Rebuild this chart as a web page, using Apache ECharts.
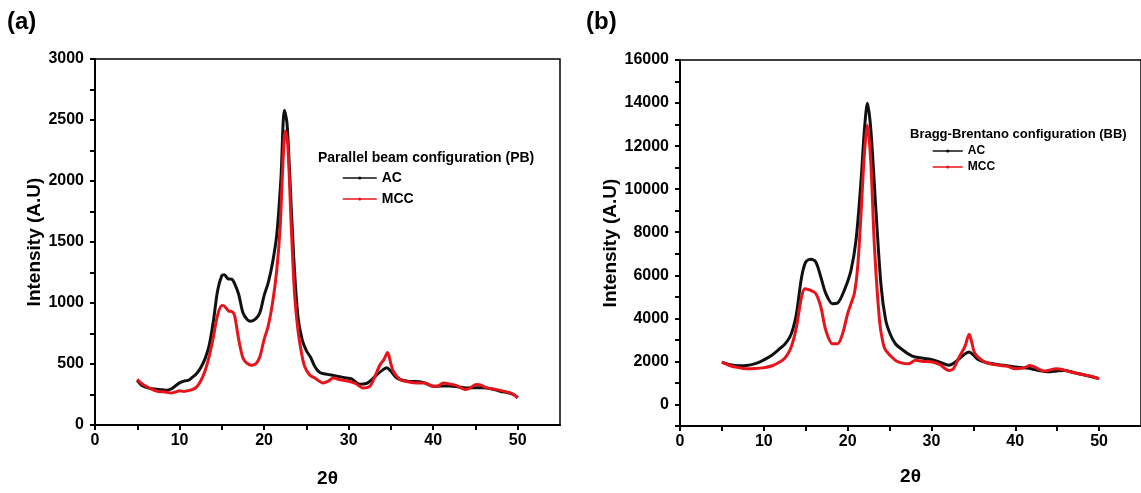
<!DOCTYPE html>
<html><head><meta charset="utf-8">
<script src="https://cdn.jsdelivr.net/npm/echarts@6/dist/echarts.min.js"></script>
<style>html,body{margin:0;padding:0;background:#fff}#c{width:1141px;height:493px}</style>
</head><body><div id="c"></div>
<script>
// Panel (a) Parallel beam (PB)
const pbAngleAC = [5,5.5,6,6.5,7,7.5,8,8.5,9,9.5,10,10.5,11,11.5,12,12.5,13,13.5,14,14.5,15,15.3,15.7,16.2,16.5,17,17.5,18,18.4,19,19.5,20,20.5,21,21.5,22,22.4,22.7,23,23.5,24,24.5,25,25.5,26,26.6,27.5,28.2,29,29.75,30.3,31.3,32.1,33.3,34,34.5,35,35.7,36.5,37.2,38.4,39,40,41,42,43,43.9,45,45.9,47,47.9,49,49.5,50];
const pbAC      = [365,325,310,300,295,292,288,285,295,320,345,360,365,390,420,470,540,650,850,1100,1225,1232,1200,1195,1160,1070,920,865,850,870,920,1060,1170,1330,1560,2030,2580,2480,2100,1380,890,700,610,555,480,430,415,406,395,385,380,335,340,410,450,470,440,385,365,357,355,345,317,320,320,312,304,305,306,295,277,262,250,225];
const pbAngleMCC = [5,5.5,6,6.5,7,7.5,8,8.5,9,9.5,10,10.5,11,11.5,12,12.5,13,13.5,14,14.5,15,15.3,15.8,16.2,16.5,17,17.5,18,18.5,19,19.5,20,20.5,21,21.5,21.9,22.2,22.5,22.8,23.2,23.6,24,24.4,24.8,25.4,26,27,27.6,28.2,29,30.1,30.8,31.7,32.5,33,33.7,34.2,34.6,35,35.3,36.1,37,38,39,40,40.6,41.2,42,42.7,43.9,45.1,45.5,46.3,47.5,48.7,49.2,49.5,50];
const pbMCC      = [375,340,320,300,285,275,272,268,262,270,280,275,282,290,310,360,440,560,720,900,980,975,935,930,900,700,550,505,490,500,560,700,815,1000,1270,1620,2100,2410,2300,1650,1080,780,600,480,410,385,344,360,385,370,357,340,304,317,380,492,540,594,500,438,371,355,344,345,317,320,344,335,325,290,331,330,304,290,271,262,250,222];

// Panel (b) Bragg-Brentano (BB)
const bbAngleAC = [5,6,7,7.9,9,9.9,11,11.9,12.5,13.1,13.5,13.9,14.5,15,15.6,16.2,16.8,17.4,18.2,18.8,19.6,20.4,21,21.6,22,22.36,22.77,23.4,24,24.55,25.1,25.7,26.5,27.7,29,30.1,31,32.1,32.6,33.3,34,34.5,35,35.6,36.5,38,39,40,41,41.9,43,43.9,45,45.9,47,47.9,49,50];
const bbAC      = [1970,1850,1800,1810,1900,2050,2300,2590,2800,3130,3550,4220,5900,6620,6740,6620,5920,5150,4680,4710,5300,6230,7630,10400,12750,13990,12750,8870,5460,3900,3250,2820,2550,2250,2150,2080,1970,1820,1900,2120,2350,2440,2300,2080,1950,1850,1800,1740,1700,1660,1560,1520,1560,1580,1480,1400,1300,1200];
const bbAngleMCC = [5,6,7,7.9,9,9.9,11,11.9,12.5,13.1,13.5,13.9,14.5,14.9,15.6,16.2,16.8,17.4,18.2,18.8,19.4,20,20.4,20.8,21.2,21.6,22,22.36,22.77,23.2,23.8,24.2,24.55,25.7,26.5,27.3,28.1,29,30.1,31,32.1,32.6,33.3,34,34.5,34.8,35.2,36.4,38,39,40,41,41.8,42.5,43.5,44.9,45.5,46.5,47.9,49,50];
const bbMCC      = [1970,1800,1710,1660,1670,1700,1800,1970,2150,2510,2950,3600,4990,5380,5300,5150,4530,3440,2820,2820,3290,4220,4680,5150,6390,8870,11660,12980,11200,7320,3910,2900,2510,2050,1920,1890,2050,2000,1970,1850,1580,1650,2200,2700,3260,2900,2360,1970,1820,1780,1660,1700,1810,1700,1550,1660,1640,1520,1400,1310,1200];

// Tick values
const xLabelTicks = [0,10,20,30,40,50];
const xMinorTicks = [0,5,10,15,20,25,30,35,40,45,50];
const pbYTicks = [0,500,1000,1500,2000,2500,3000];
const pbYMinor = [0,250,500,750,1000,1250,1500,1750,2000,2250,2500,2750,3000];
const bbYLabels = [0,2000,4000,6000,8000,10000,12000,14000,16000];
const bbYTicks = [-1000,0,1000,2000,3000,4000,5000,6000,7000,8000,9000,10000,11000,12000,13000,14000,15000,16000];

const FF = '"Liberation Sans", Arial, sans-serif';
const BLACK = '#111111', RED = '#e8141b';
const plain = v => String(v);

function xAx(gi, gap) {
  return {
    type: 'value', gridIndex: gi, min: 0, max: 55,
    name: '2θ', nameLocation: 'middle', nameGap: gap,
    nameTextStyle: {fontSize: 19, fontWeight: 'bold', color: '#000', fontFamily: FF},
    axisLine: {show: true, onZero: false, lineStyle: {color: '#000', width: 2}},
    axisTick: {show: true, customValues: xMinorTicks, length: 5, inside: false, lineStyle: {color: '#000', width: 2}},
    axisLabel: {customValues: xLabelTicks, formatter: plain, fontSize: 16, fontWeight: 'bold', color: '#000', fontFamily: FF, margin: 8},
    splitLine: {show: false}
  };
}
function yAx(gi, min, max, labels, ticks, gap) {
  return {
    type: 'value', gridIndex: gi, min: min, max: max,
    name: 'Intensity (A.U)', nameLocation: 'middle', nameGap: gap,
    nameTextStyle: {fontSize: 19, fontWeight: 'bold', color: '#000', fontFamily: FF},
    axisLine: {show: true, onZero: false, lineStyle: {color: '#000', width: 2}},
    axisTick: {show: true, customValues: ticks, length: 5, lineStyle: {color: '#000', width: 2}},
    axisLabel: {customValues: labels, formatter: plain, fontSize: 16, fontWeight: 'bold', color: '#000', fontFamily: FF, margin: 11},
    splitLine: {show: false}
  };
}
function ser(name, xs, ys, color, gi) {
  return {
    name: name, type: 'line', xAxisIndex: gi, yAxisIndex: gi,
    data: xs.map((x, i) => [x, ys[i]]),
    showSymbol: false, symbol: 'circle', symbolSize: 3,
    smooth: 0.3, lineStyle: {width: 3, color: color}, itemStyle: {color: color},
    silent: true, animation: false
  };
}

const chart = echarts.init(document.getElementById('c'), null, {renderer: 'canvas'});
chart.setOption({
  backgroundColor: '#fff',
  animation: false,
  title: [
    {text: '(a)', left: 7, top: 10, padding: 0, textStyle: {fontSize: 24, fontWeight: 'bold', color: '#000', fontFamily: FF}},
    {text: '(b)', left: 586, top: 10, padding: 0, textStyle: {fontSize: 24, fontWeight: 'bold', color: '#000', fontFamily: FF}},
    {text: 'Parallel beam configuration (PB)', left: 318, top: 151, padding: 0, textStyle: {fontSize: 14, fontWeight: 'bold', color: '#000', fontFamily: FF}},
    {text: 'Bragg-Brentano configuration (BB)', left: 910, top: 128, padding: 0, textStyle: {fontSize: 13, fontWeight: 'bold', color: '#000', fontFamily: FF}}
  ],
  legend: [
    {data: ['AC', 'MCC'], orient: 'vertical', left: 342, top: 171, padding: 0, itemWidth: 34, itemHeight: 4, itemGap: 7, selectedMode: false,
     lineStyle: {width: 1.5}, textStyle: {fontSize: 14, fontWeight: 'bold', color: '#000', fontFamily: FF}},
    {data: ['AC', 'MCC'], orient: 'vertical', left: 932, top: 145, padding: 0, itemWidth: 30, itemHeight: 4, itemGap: 4, selectedMode: false,
     lineStyle: {width: 1.5}, textStyle: {fontSize: 12, fontWeight: 'bold', color: '#000', fontFamily: FF}}
  ],
  grid: [
    {left: 95, top: 59, right: 581, bottom: 61, show: true, borderColor: '#000', borderWidth: 1.5, backgroundColor: 'transparent', containLabel: false},
    {left: 680, top: 60, right: -2, bottom: 67, show: true, borderColor: '#000', borderWidth: 1.5, backgroundColor: 'transparent', containLabel: false}
  ],
  xAxis: [xAx(0, 44), xAx(1, 41)],
  yAxis: [yAx(0, 0, 3000, pbYTicks, pbYMinor, 51), yAx(1, -1000, 16000, bbYLabels, bbYTicks, 59)],
  series: [
    ser('AC', pbAngleAC, pbAC, BLACK, 0),
    ser('MCC', pbAngleMCC, pbMCC, RED, 0),
    ser('AC', bbAngleAC, bbAC, BLACK, 1),
    ser('MCC', bbAngleMCC, bbMCC, RED, 1)
  ]
});
</script>
</body></html>
